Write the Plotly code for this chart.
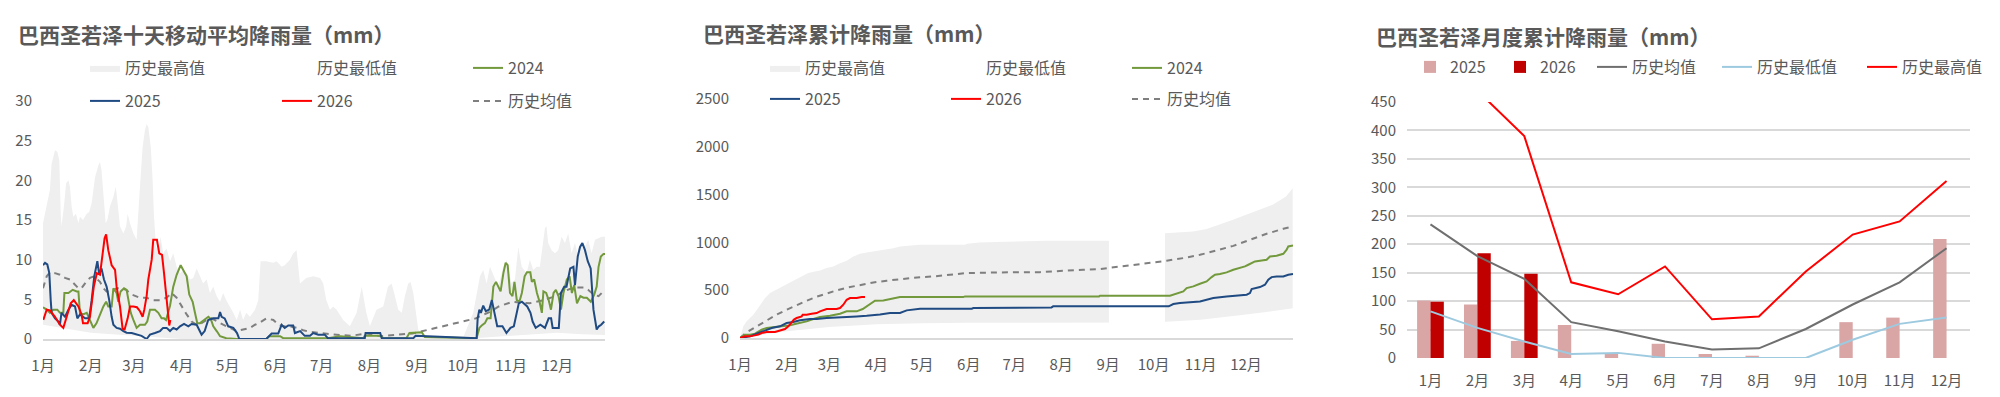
import plotly.graph_objects as go

W, H = 2000, 397
MONTHS = ["1月", "2月", "3月", "4月", "5月", "6月", "7月", "8月", "9月", "10月", "11月", "12月"]
MONTH_START = [0, 31, 59, 90, 120, 151, 181, 212, 243, 273, 304, 334]

# ---------------- Panel 1: 10-day moving average rainfall (mm) ----------------
p1_max_day = [0, 1.3, 2.4, 4.5, 5.6, 6.7, 7.8, 9.3, 10.6, 11.5, 12, 13.6, 15, 16.5, 17.5, 18.6, 19.7, 21.4, 23, 24,
              26, 28.4, 30, 31.6, 33.8, 36, 37, 38, 39.2, 40.7, 41.8, 43.5, 45.7, 47.2, 47.8, 48.9, 50, 52.2, 54, 55,
              56.5, 58.7, 60.8, 63, 64.7, 66.2, 67.3, 68.4, 70, 71.2, 72, 73.4, 75, 76.4, 78, 80.3, 82.5, 84.6, 86.8, 89,
              91, 93.3, 95.5, 97.6, 99.8, 102, 104, 106.3, 108.4, 110.6, 112.8, 115, 117, 119, 121.4, 123.6, 125.8, 128,
              130, 132, 134.4, 137.7, 139.8, 141.3, 145, 149.6, 151.7, 155, 157, 160.4, 162.5, 164.7, 165.8, 166.9, 171,
              175.5, 180, 182, 184, 186.4, 188.5, 190.7, 195, 199.3, 203.7, 207, 210, 212.3, 216.6, 221, 224, 226.4,
              228.6, 230.7, 233, 235, 237.2, 238.7, 240.5, 242.2, 243.7, 247, 273, 279.4, 281.6, 283.8, 285.9, 288.1,
              290.3, 293.5, 295.7, 298.9, 301.1, 304.3, 306.5, 308.7, 310.9, 314.1, 316.2, 318.4, 320.6, 322.7, 324.5,
              326, 327, 328.1, 330.3, 332.5, 334.6, 336.8, 339, 341.1, 343.3, 345.5, 347.6, 349.8, 352, 354.1, 356.3,
              358.5, 360.7, 362.8, 365]
p1_max_val = [14.6, 15.8, 16.7, 18.8, 22.1, 23.0, 23.8, 23.6, 22.5, 15.8, 14.2, 16.7, 19.6, 20.0, 19.2, 16.7, 15.4, 15.8,
              14.6, 15.4, 15.0, 15.8, 16.0, 17.1, 20.4, 21.9, 22.3, 21.3, 17.9, 14.6, 15.0, 16.7, 17.9, 19.2, 18.3, 15.8,
              14.2, 13.3, 14.2, 15.8, 14.6, 13.3, 12.5, 19.2, 24.2, 26.3, 27.1, 26.7, 24.2, 20.0, 15.8, 11.6, 11.2, 12.9,
              10.8, 11.4, 9.8, 10.8, 9.1, 8.3, 8.7, 8.3, 7.5, 7.7, 8.9, 7.9, 7.0, 7.5, 5.8, 6.6, 5.4, 4.7, 5.8, 4.9, 4.1,
              3.3, 2.4, 3.7, 2.4, 3.3, 2.8, 3.7, 4.9, 9.8, 9.8, 9.6, 9.8, 9.1, 9.3, 10.0, 10.8, 11.2, 9.1, 7.0, 7.7, 7.9,
              7.7, 7.0, 4.9, 3.7, 4.1, 3.7, 2.4, 1.6, 3.3, 6.6, 3.3, 1.6, 3.7, 4.1, 6.6, 7.0, 5.4, 3.7, 3.3, 5.4, 7.0,
              7.2, 5.8, 3.3, 1.2, 0.35, 0.25, 3.3, 5.8, 7.9, 8.7, 7.0, 9.1, 7.5, 6.6, 9.1, 10.0, 7.0, 7.5, 11.6, 9.1,
              8.3, 10.0, 8.7, 9.1, 9.1, 11.6, 14.0, 14.2, 12.1, 11.2, 10.8, 11.2, 12.9, 12.1, 13.3, 10.8, 12.1, 10.4,
              12.1, 11.6, 12.5, 10.8, 12.5, 12.7, 12.9, 12.9]

p1_min_day = [0, 10, 20, 31, 45, 59, 75, 90, 273, 290, 304, 320, 334, 350, 365]
p1_min_val = [1.8, 1.5, 1.2, 0.8, 0.6, 0.4, 0.2, 0, 0, 0.2, 0.4, 0.6, 0.8, 0.6, 0.5]

p1_mean_day = [0, 2.4, 4.5, 7.8, 11, 14.3, 17.5, 20, 23, 25, 28, 30.5, 33.3, 37, 39.2, 41.3, 44.6, 47.8, 51, 54, 57.6,
               63, 67.3, 71.6, 76, 80.3, 83.5, 86.8, 90, 93.3, 96.5, 99.8, 103, 106.3, 109.5, 112.8, 117, 121.4, 125.8,
               130, 134.4, 137.7, 141, 145, 149.6, 152.8, 156, 160.4, 164.7, 169, 173.4, 180, 186, 193, 200, 210, 219,
               230, 240, 251, 262, 272.5, 281, 290, 296, 305, 316, 325, 333, 338, 345, 351, 354, 357.6, 360.8, 362.9,
               365]
p1_mean_val = [6.4, 7.9, 8.4, 8.3, 8.1, 7.7, 7.5, 7.0, 6.4, 6.4, 7.2, 7.7, 7.9, 7.2, 6.4, 6.0, 6.0, 6.4, 6.4, 6.2, 5.6,
               5.2, 5.2, 4.9, 4.9, 5.2, 5.8, 5.2, 4.1, 3.1, 2.2, 1.8, 2.0, 2.4, 2.6, 2.2, 1.8, 1.4, 1.0, 1.2, 1.4, 1.8,
               2.1, 2.6, 2.4, 1.8, 1.6, 1.6, 1.4, 1.1, 0.9, 0.75, 0.6, 0.5, 0.4, 0.7, 0.35, 0.55, 0.7, 1.2, 1.7, 2.2,
               2.6, 3.4, 4.1, 4.7, 4.5, 4.9, 5.4, 6.0, 6.5, 6.5, 6.2, 5.6, 5.4, 5.8, 6.1]

p1_2024_day = [0, 2.4, 4.5, 6.7, 9.3, 11, 13.2, 13.9, 16.5, 18, 19.3, 21.9, 23, 24, 26, 28.4, 30.5, 32.7, 34.8, 37, 39.2,
               41, 42.4, 44.6, 45.7, 47.8, 48.9, 50.4, 52.6, 54.3, 55.4, 57, 58.7, 60.8, 63, 66.2, 67.7, 69.5, 72.7,
               74.9, 77, 78.6, 79.9, 81.4, 82.5, 84.6, 86.8, 89.4, 91, 93.3, 95, 97.2, 98.7, 100.2, 102, 105, 107.4, 109,
               110.6, 112.8, 115, 119, 125.8, 145, 147, 154, 156, 185, 193, 208, 209, 219, 221, 236, 238, 246, 248,
               281.6, 283.4, 284.9, 287, 288.6, 290.7, 292.5, 294.2, 295.7, 297.2, 299, 300.5, 301.8, 303.3, 304.9,
               306.2, 307.7, 309.4, 311, 312.8, 314.3, 316.5, 317.5, 319, 320.8, 322.5, 324, 325, 326.8, 328.4, 329.9,
               331.6, 333.1, 334.8, 336.4, 338, 340.2, 342, 343.5, 345, 346.8, 349, 351, 353.2, 355.8, 358, 359.6,
               360.8, 362.3, 364, 365]
p1_2024_val = [4.0, 3.7, 3.3, 3.7, 3.7, 3.3, 3.3, 5.8, 5.8, 6.0, 6.2, 6.0, 6.0, 3.3, 3.1, 3.3, 2.4, 1.4, 2.0, 3.1, 4.1,
               4.7, 4.1, 4.1, 6.4, 5.8, 4.7, 6.0, 6.4, 6.2, 4.9, 3.3, 2.4, 1.4, 1.8, 1.8, 2.2, 3.7, 3.7, 3.3, 2.6, 2.6,
               2.4, 3.3, 4.2, 6.6, 8.1, 9.3, 8.7, 7.9, 5.6, 4.7, 3.3, 2.0, 2.0, 2.5, 2.8, 2.5, 1.6, 1.0, 0.35, 0.1, 0,
               0, 0.35, 0.35, 0.1, 0.1, 0.35, 0.1, 0.4, 0.4, 0.1, 0.1, 0.75, 0.85, 0.25, 0.1, 1.4, 1.7, 2.0, 2.6, 2.6,
               6.6, 7.2, 6.6, 6.0, 8.3, 9.6, 9.3, 5.8, 5.4, 7.2, 4.9, 4.7, 5.8, 7.9, 8.4, 8.4, 7.2, 7.5, 5.8, 4.7, 3.3,
               6.0, 5.8, 4.9, 3.7, 5.8, 6.2, 5.4, 3.7, 5.8, 7.5, 7.9, 5.8, 6.8, 4.5, 5.4, 5.2, 5.2, 4.7, 5.6, 6.6, 9.1,
               10.4, 10.7, 10.7]

p1_2025_day = [0, 1.3, 2.8, 4.1, 5, 5.6, 7.8, 10, 11, 12, 14.3, 16.5, 18.6, 20.8, 22.3, 24, 27.3, 30, 31.6, 33.3, 35.3,
               36.4, 38, 39.6, 41.3, 43, 44.6, 45.7, 47.8, 50, 52.2, 54.3, 57.6, 60.8, 64, 67.3, 69.5, 72.7, 76, 78,
               80.3, 82.5, 84.6, 86.8, 89, 91.6, 94.4, 96.5, 99.8, 103, 105, 107.3, 110.6, 113.9, 115, 116, 118, 120.3,
               123.6, 126, 127.5, 145, 148.5, 152.8, 155, 157, 159.3, 162.5, 163.6, 167, 170, 173.4, 175.5, 178.8, 183,
               185, 193, 209, 209.5, 219, 220, 240.5, 242, 248, 281.6, 282.3, 283.4, 284.4, 285.9, 287.6, 289.8, 291.5,
               293, 295, 298.4, 301, 303.6, 305.8, 309, 311, 314.5, 316.6, 318, 320, 323, 326, 328.4, 330, 331, 335,
               336.4, 338.5, 340, 342.4, 344.5, 345.5, 347.3, 348.8, 350.3, 352, 353.8, 355.7, 357.5, 359.6, 361,
               362.5, 364.5]
p1_2025_val = [9.3, 9.6, 9.4, 8.3, 4.9, 3.3, 2.6, 2.2, 1.8, 3.3, 2.8, 3.7, 4.3, 4.1, 2.6, 3.1, 2.6, 2.6, 4.9, 7.9, 9.8,
               8.3, 8.9, 7.5, 6.6, 4.9, 2.8, 1.8, 1.4, 1.3, 1.0, 0.8, 0.75, 0.55, 0.4, 0.0, 0.55, 0.75, 1.0, 1.4, 1.4,
               1.0, 1.4, 1.2, 1.6, 1.9, 1.6, 1.9, 1.8, 0.55, 1.0, 2.4, 2.6, 2.6, 3.4, 2.8, 2.6, 1.6, 1.4, 0.75, 0.0, 0.0,
               0.7, 0.7, 1.8, 1.4, 1.7, 1.7, 0.75, 1.0, 0.4, 0.4, 0.75, 0.55, 0.55, 0.1, 0.1, 0.1, 0.75, 0.75, 0.1,
               0.1, 0.4, 0.35, 0.1, 2.6, 3.7, 3.3, 4.2, 3.5, 3.7, 4.9, 3.3, 1.6, 1.6, 0.75, 1.4, 1.6, 4.5, 4.7, 4.1,
               3.3, 2.2, 1.4, 1.8, 1.4, 2.6, 2.6, 1.4, 1.4, 5.8, 6.6, 6.6, 8.9, 9.1, 6.8, 10.4, 11.6, 12.1, 11.2, 9.8,
               8.9, 3.7, 1.2, 1.6, 1.8, 2.2]

p1_2026_day = [0.2, 2.4, 4.5, 7.8, 11, 13.2, 15.4, 18, 20, 23, 25, 26, 29, 30.5, 33, 35, 37, 38.7, 40, 41, 42.4, 44.6,
               46.8, 47.8, 50, 51.7, 53, 55, 56.5, 58.7, 61, 63, 64.7, 65.8, 67.3, 68.4, 70.6, 71.6, 74, 75.5, 77.3,
               78.6, 80.3, 81.4, 82, 82.7]
p1_2026_val = [2.4, 3.7, 3.6, 2.8, 1.8, 1.4, 2.8, 4.5, 4.9, 4.1, 3.1, 2.0, 2.0, 2.8, 6.6, 8.3, 8.1, 10.4, 12.7, 13.2,
               11.2, 9.3, 8.7, 6.6, 4.1, 1.3, 1.2, 2.6, 4.1, 4.1, 4.0, 3.5, 2.8, 3.7, 5.4, 7.5, 10.0, 12.5, 12.5, 10.8,
               10.6, 8.3, 5.4, 3.3, 1.7, 2.4]

# ---------------- Panel 2: cumulative rainfall (mm) ----------------
# historical max, in two stretches (no values between early Sep and early Oct)
p2_max_day_a = [0, 2.2, 4.4, 6.6, 8.8, 12, 14.3, 16.5, 19.8, 24.2, 28.6, 33, 36.3, 40.7, 45, 49.5, 52.8, 57.2, 61.6,
                66, 70.4, 74.8, 79.2, 83.6, 88, 92.4, 96.8, 101.2, 105.6, 112.2, 118.8, 134, 148.5, 150, 158, 169, 193,
                202, 243.5]
p2_max_val_a = [0, 122, 174, 209, 244, 313, 372, 418, 470, 505, 540, 575, 609, 644, 679, 696, 707, 731, 749, 783, 808,
                853, 881, 895, 905, 916, 930, 940, 958, 968, 975, 975, 975, 985, 999, 1003, 1010, 1017, 1017]
p2_max_day_b = [280.5, 290.4, 299, 308, 316.6, 325.4, 334, 343, 351.6, 360.4, 364.8]
p2_max_val_b = [1097, 1104, 1114, 1139, 1184, 1236, 1288, 1341, 1393, 1480, 1567]

p2_min_day = [0, 31, 59, 90, 120, 151, 273, 304, 334, 365]
p2_min_val = [0, 70, 115, 145, 155, 160, 163, 190, 245, 310]

p2_mean_day = [0, 4.4, 11, 17.6, 24.2, 30.8, 37.4, 44, 50.6, 57.2, 63.8, 70.4, 79.2, 88, 96.8, 105.6, 114.4, 127.6,
               140.8, 149.6, 158.4, 171.6, 184.8, 198, 204.6, 215.6, 226.6, 237.6, 248.6, 259.6, 270.6, 281.6, 292.6,
               303.6, 314.6, 325.6, 336.6, 347.6, 358.6, 365]
p2_mean_val = [0, 59, 122, 185, 244, 296, 345, 390, 432, 467, 498, 526, 557, 581, 599, 616, 630, 644, 662, 679, 682,
               688, 689, 689, 696, 707, 714, 721, 742, 763, 783, 808, 836, 870, 916, 964, 1027, 1090, 1142, 1166]

p2_2024_day = [0, 3.3, 6.6, 9.9, 14.3, 17.6, 23.1, 28.6, 33, 36.3, 39.6, 44, 48.4, 52.8, 59.4, 66, 70.4, 77, 81, 83.6,
               86.9, 89.1, 94.6, 100, 103.4, 105.6, 147.4, 148.5, 237, 237.6, 283.8, 286, 289.3, 292.6, 294.8, 299.2,
               303.6, 308, 311.3, 313.5, 316.8, 321.2, 325.6, 330, 333.3, 335.5, 339.9, 344.3, 347.6, 349.8, 354.2,
               358.6, 360.8, 361.9, 365]
p2_2024_val = [0, 35, 35, 45, 87, 104, 115, 122, 132, 146, 157, 174, 198, 219, 233, 254, 279, 279, 303, 331, 372, 390,
               393, 407, 418, 428, 428, 435, 435, 442, 442, 453, 463, 487, 522, 540, 568, 592, 637, 662, 669, 686, 714,
               731, 749, 766, 801, 811, 818, 853, 860, 881, 923, 958, 968]

p2_2025_day = [0, 3.3, 6.6, 11, 16.5, 20.9, 26.4, 30.8, 35.2, 39.6, 46.2, 50.6, 57.2, 61.6, 66, 70.4, 75, 77, 83.6, 88,
               92.4, 99, 105.6, 110, 114.4, 118.8, 153, 154, 205.6, 206.7, 283, 286, 290.4, 299, 303.6, 308, 312.4,
               321.2, 325.6, 334.4, 336.6, 337.7, 343.2, 346.5, 348.7, 350.9, 354.2, 358.6, 361.9, 365]
p2_2025_val = [0, 10, 17, 45, 80, 104, 122, 157, 167, 185, 198, 198, 209, 212, 216, 219, 219, 226, 233, 237, 247, 261,
               261, 289, 296, 306, 306, 313, 320, 331, 331, 355, 366, 373, 383, 400, 418, 435, 442, 453, 470, 512, 533,
               557, 609, 637, 644, 644, 662, 669]

p2_2026_day = [0, 3.3, 6.6, 9.9, 12.1, 14.3, 17.6, 23.1, 26.4, 29.7, 31.9, 34.1, 35.6, 37.4, 40.7, 41.4, 44, 47.3, 50.6,
               52.8, 57.2, 63.8, 66, 68.2, 70.4, 72.6, 77, 80.3, 82.5]
p2_2026_val = [0, 17, 17, 24, 35, 52, 63, 63, 80, 94, 122, 157, 192, 209, 226, 244, 244, 254, 261, 279, 303, 303, 313,
               348, 400, 418, 418, 428, 428]

# ---------------- Panel 3: monthly cumulative rainfall (mm) ----------------
p3_2025 = [101, 94, 30, 58, 7, 25, 7, 4, 0, 63, 71, 209]
p3_2026 = [99, 184, 148, None, None, None, None, None, None, None, None, None]
p3_mean = [235, 179, 139, 63, 47, 29, 15, 17, 51, 94, 133, 193]
p3_min = [82, 53, 29, 7, 9, 0, 0, 0, 0, 32, 60, 71]
p3_max = [500, 470, 390, 133, 112, 161, 68, 73, 152, 217, 240, 311]

# ---------------- styling ----------------
FONT = "Noto Sans CJK SC, Noto Sans, sans-serif"
TXT = "#595959"
GREY_FILL = "#efefef"
C2024 = "#72993b"
C2025 = "#1f4a82"
C2026 = "#ff0000"
CMEAN = "#7f7f7f"


def px_x(x):
    return x / W


def px_y(y):
    return 1 - y / H


fig = go.Figure()

# Panel 1 traces
fig.add_trace(go.Scatter(x=p1_max_day, y=p1_max_val, name="历史最高值", mode="lines", fill="tozeroy",
                         fillcolor=GREY_FILL, line=dict(width=0, color=GREY_FILL), xaxis="x", yaxis="y",
                         legend="legend"))
fig.add_trace(go.Scatter(x=p1_min_day, y=p1_min_val, name="历史最低值", mode="lines", fill="tozeroy",
                         fillcolor="#ffffff", line=dict(width=0, color="#ffffff"), xaxis="x", yaxis="y",
                         legend="legend2"))
fig.add_trace(go.Scatter(x=p1_mean_day, y=p1_mean_val, name="历史均值", mode="lines",
                         line=dict(width=2, color=CMEAN, dash="6px,5px"), xaxis="x", yaxis="y", legend="legend6"))
fig.add_trace(go.Scatter(x=p1_2024_day, y=p1_2024_val, name="2024", mode="lines",
                         line=dict(width=2, color=C2024), xaxis="x", yaxis="y", legend="legend3"))
fig.add_trace(go.Scatter(x=p1_2025_day, y=p1_2025_val, name="2025", mode="lines",
                         line=dict(width=2, color=C2025), xaxis="x", yaxis="y", legend="legend4"))
fig.add_trace(go.Scatter(x=p1_2026_day, y=p1_2026_val, name="2026", mode="lines",
                         line=dict(width=2, color=C2026), xaxis="x", yaxis="y", legend="legend5"))

# Panel 2 traces
fig.add_trace(go.Scatter(x=p2_max_day_a, y=p2_max_val_a, name="历史最高值", mode="lines", fill="tozeroy",
                         fillcolor=GREY_FILL, line=dict(width=0, color=GREY_FILL), xaxis="x2", yaxis="y2",
                         legend="legend7"))
fig.add_trace(go.Scatter(x=p2_max_day_b, y=p2_max_val_b, name="历史最高值", mode="lines", fill="tozeroy",
                         fillcolor=GREY_FILL, line=dict(width=0, color=GREY_FILL), xaxis="x2", yaxis="y2",
                         showlegend=False))
fig.add_trace(go.Scatter(x=p2_min_day, y=p2_min_val, name="历史最低值", mode="lines", fill="tozeroy",
                         fillcolor="#ffffff", line=dict(width=0, color="#ffffff"), xaxis="x2", yaxis="y2",
                         legend="legend8"))
fig.add_trace(go.Scatter(x=p2_mean_day, y=p2_mean_val, name="历史均值", mode="lines",
                         line=dict(width=2, color=CMEAN, dash="6px,5px"), xaxis="x2", yaxis="y2", legend="legend12"))
fig.add_trace(go.Scatter(x=p2_2024_day, y=p2_2024_val, name="2024", mode="lines",
                         line=dict(width=2, color=C2024), xaxis="x2", yaxis="y2", legend="legend9"))
fig.add_trace(go.Scatter(x=p2_2025_day, y=p2_2025_val, name="2025", mode="lines",
                         line=dict(width=2, color=C2025), xaxis="x2", yaxis="y2", legend="legend10"))
fig.add_trace(go.Scatter(x=p2_2026_day, y=p2_2026_val, name="2026", mode="lines",
                         line=dict(width=2, color=C2026), xaxis="x2", yaxis="y2", legend="legend11"))

# Panel 3 traces
fig.add_trace(go.Bar(x=MONTHS, y=p3_2025, name="2025", marker=dict(color="#d9a5a5", line=dict(width=0)),
                     xaxis="x3", yaxis="y3", legend="legend13"))
fig.add_trace(go.Bar(x=MONTHS, y=p3_2026, name="2026", marker=dict(color="#c00000", line=dict(width=0)),
                     xaxis="x3", yaxis="y3", legend="legend14"))
fig.add_trace(go.Scatter(x=MONTHS, y=p3_mean, name="历史均值", mode="lines", line=dict(width=2, color="#6f6f6f"),
                         xaxis="x3", yaxis="y3", legend="legend15"))
fig.add_trace(go.Scatter(x=MONTHS, y=p3_min, name="历史最低值", mode="lines", line=dict(width=2, color="#9ecae0"),
                         xaxis="x3", yaxis="y3", legend="legend16"))
fig.add_trace(go.Scatter(x=MONTHS, y=p3_max, name="历史最高值", mode="lines", line=dict(width=2, color="#ff0000"),
                         xaxis="x3", yaxis="y3", legend="legend17"))

tickfont = dict(family=FONT, size=15, color=TXT)


def day_xaxis(x0, x1, anchor):
    return dict(domain=[px_x(x0), px_x(x1)], range=[0, 365], tickmode="array", tickvals=MONTH_START,
                ticktext=MONTHS, showgrid=False, zeroline=False, showline=True, linecolor="#d9d9d9",
                linewidth=2, ticks="", tickfont=tickfont, ticklabelstandoff=12, automargin=False,
                anchor=anchor)


def val_yaxis(y0, y1, top, dtick, anchor):
    return dict(domain=[px_y(y0), px_y(y1)], range=[0, top], dtick=dtick, showgrid=False, zeroline=False,
                showline=False, ticks="", tickfont=tickfont, ticklabelstandoff=10, anchor=anchor,
                automargin=False)


def legend_at(text_x, y):
    # plotly places the legend text 40px right of the legend's left edge
    return dict(orientation="h", xanchor="left", yanchor="middle", bgcolor="rgba(0,0,0,0)",
                font=dict(family=FONT, size=16, color=TXT), itemwidth=30, x=px_x(text_x - 40), y=px_y(y))


title_font = dict(family=FONT, size=21, color=TXT)

layout_legends = {}
legend_spots = [
    (125, 68), (317, 68), (508, 68), (125, 101), (317, 101), (508, 101),
    (805, 68), (986, 68), (1167, 68), (805, 99), (986, 99), (1167, 99),
    (1450, 67), (1540, 67), (1632, 67), (1757, 67), (1902, 67),
]
for i, (lx, ly) in enumerate(legend_spots):
    key = "legend" if i == 0 else "legend%d" % (i + 1)
    layout_legends[key] = legend_at(lx, ly)

fig.update_layout(
    width=W, height=H, autosize=False,
    margin=dict(l=0, r=0, t=0, b=0, pad=0, autoexpand=False),
    paper_bgcolor="white", plot_bgcolor="white",
    font=dict(family=FONT, color=TXT),
    barmode="group", bargap=0.43, bargroupgap=0,
    xaxis=day_xaxis(43, 605, "y"),
    yaxis=val_yaxis(339, 101, 30, 5, "x"),
    xaxis2=day_xaxis(740, 1293, "y2"),
    yaxis2=val_yaxis(338, 99, 2500, 500, "x2"),
    xaxis3=dict(domain=[px_x(1407), px_x(1970)], anchor="y3", showgrid=False, zeroline=False, showline=False,
                ticks="", tickfont=tickfont, ticklabelstandoff=12, automargin=False),
    yaxis3=dict(domain=[px_y(358), px_y(102)], range=[0, 450], dtick=50, showgrid=True, gridcolor="#d9d9d9",
                gridwidth=1.5, zeroline=False, showline=False, ticks="", tickfont=tickfont,
                ticklabelstandoff=10, anchor="x3", automargin=False),
    annotations=[
        dict(text="<b>巴西圣若泽十天移动平均降雨量（mm）</b>", x=px_x(16), y=px_y(34), xref="paper", yref="paper",
             xanchor="left", yanchor="middle", showarrow=False, font=title_font),
        dict(text="<b>巴西圣若泽累计降雨量（mm）</b>", x=px_x(701), y=px_y(33), xref="paper", yref="paper",
             xanchor="left", yanchor="middle", showarrow=False, font=title_font),
        dict(text="<b>巴西圣若泽月度累计降雨量（mm）</b>", x=px_x(1374), y=px_y(36), xref="paper", yref="paper",
             xanchor="left", yanchor="middle", showarrow=False, font=title_font),
    ],
    **layout_legends,
)

fig.write_html("out.html", config={"displayModeBar": False},
               post_script="document.body.style.margin='0';document.body.style.overflow='hidden';")
